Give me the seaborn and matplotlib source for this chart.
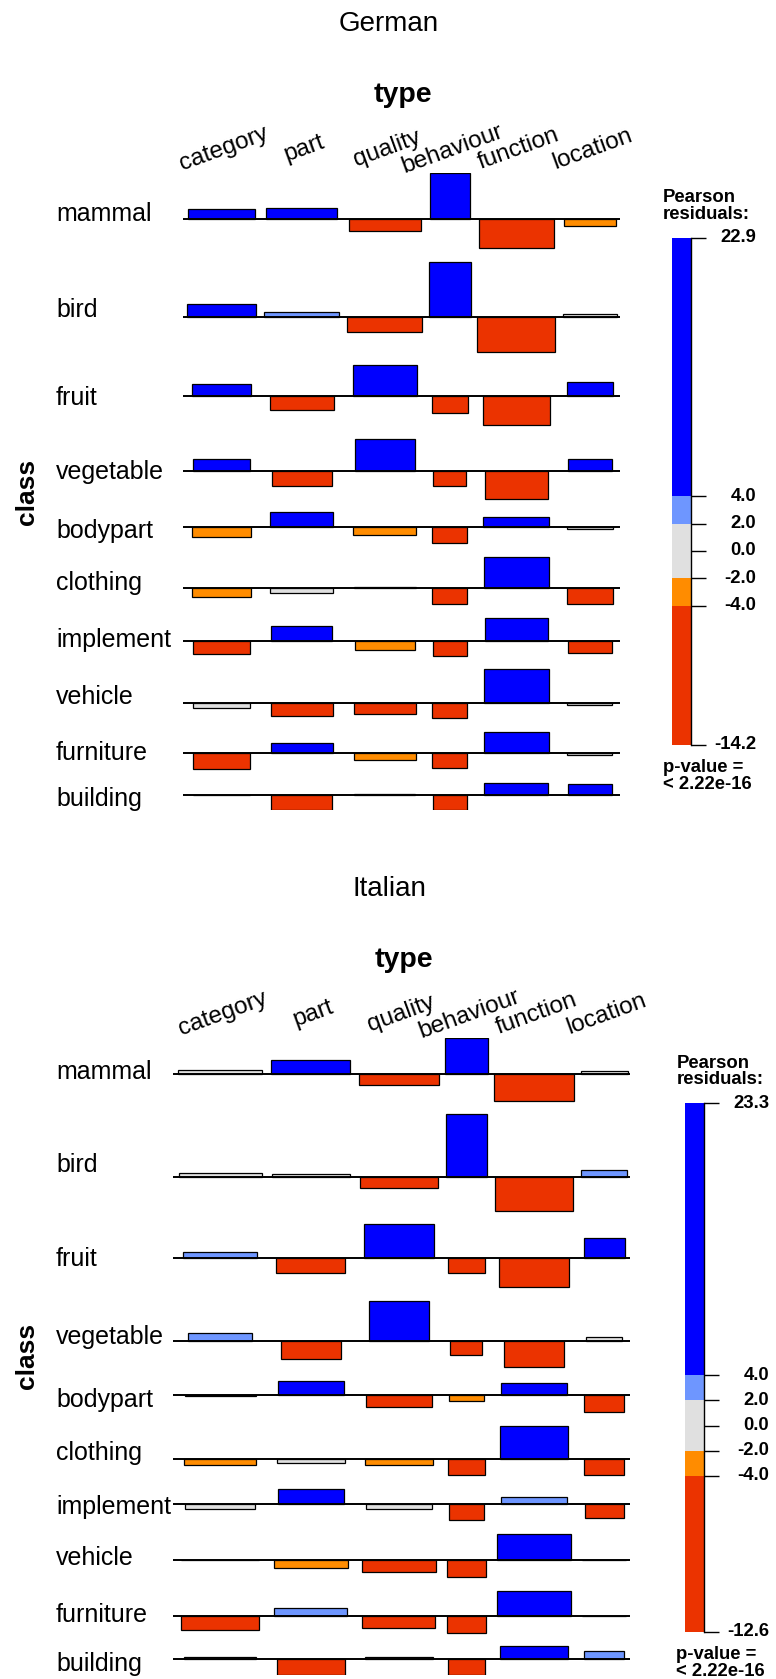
import numpy as np
import matplotlib
matplotlib.use("Agg")
import matplotlib.pyplot as plt
import matplotlib.transforms as mtransforms
import seaborn as sns

# ---------------- data ----------------
classes = ["mammal", "bird", "fruit", "vegetable", "bodypart",
           "clothing", "implement", "vehicle", "furniture", "building"]
types = ["category", "part", "quality", "behaviour", "function", "location"]

# German: margins (estimated) and Pearson residuals
de_class_totals = [912, 1000, 731, 648, 714, 702, 656, 689, 689, 664]
de_type_totals = [1343, 1542, 1542, 484, 1681, 814]
de_residuals = [
    [4.3, 4.5, -4.8, 19.0, -12.0, -2.9],
    [5.5, 2.3, -6.2, 22.9, -14.2, 1.4],
    [5.1, -5.5, 12.8, -6.7, -11.9, 5.9],
    [4.8, -6.3, 13.2, -6.2, -11.6, 4.8],
    [-3.9, 6.1, -3.3, -6.6, 4.1, -0.8],
    [-3.9, -1.9, 0.4, -6.6, 12.9, -6.6],
    [-5.5, 6.1, -3.9, -6.2, 9.5, -5.0],
    [-1.8, -5.4, -4.5, -6.2, 14.0, -0.6],
    [-6.6, 4.1, -2.8, -6.3, 8.7, -0.8],
    [0.1, -6.1, 0.2, -6.1, 5.1, 4.4],
]

# Italian
it_class_totals = [1000, 964, 766, 573, 706, 740, 697, 865, 852, 731]
it_type_totals = [1875, 1646, 1659, 472, 1659, 583]
it_residuals = [
    [1.5, 5.1, -4.3, 13.3, -10.0, 0.9],
    [1.5, 0.9, -4.3, 23.3, -12.6, 2.6],
    [2.2, -5.6, 12.6, -5.6, -10.9, 7.4],
    [3.0, -6.9, 14.9, -5.3, -9.9, 1.4],
    [-0.4, 5.2, -4.6, -2.4, 4.6, -6.4],
    [-2.3, -1.6, -2.3, -5.8, 12.4, -5.9],
    [-1.9, 5.9, -1.9, -5.9, 2.7, -5.1],
    [0.0, -3.0, -4.2, -6.2, 9.9, 0.0],
    [-5.1, 3.0, -4.6, -6.3, 9.4, 0.0],
    [1.0, -5.7, 0.7, -5.7, 4.8, 3.1],
]

p_value_text = "p-value =\n< 2.22e-16"
shade_breaks = [-4, -2, 2, 4]
shade_colors = ["#EB3300", "#FF8C00", "#E0E0E0", "#6E96FF", "#0000FF"]

# ---------------- style ----------------
sns.set_theme(style="white")
plt.rcParams["font.family"] = ["Liberation Sans", "DejaVu Sans"]
plt.rcParams["text.color"] = "black"

W, H = 776, 1679
fig = plt.figure(figsize=(W / 100, H / 100), dpi=100)
PT = 0.72  # points per pixel at 100 dpi


def rect(x0, y0, w, h):
    return [x0 / W, 1 - (y0 + h) / H, w / W, h / H]


def shade(v):
    if v > shade_breaks[3]:
        return shade_colors[4]
    if v > shade_breaks[2]:
        return shade_colors[3]
    if v >= shade_breaks[1]:
        return shade_colors[2]
    if v >= shade_breaks[0]:
        return shade_colors[1]
    return shade_colors[0]


# layout (pixels): plot box, legend x/width, legend y-anchors for [max, 4, -4, min]
panels = [
    dict(title="German", res=de_residuals, rows=de_class_totals, cols=de_type_totals,
         plot=(182.7, 173.3, 437.3, 636.4), legend_x=(672, 19),
         legend_y=(237.6, 496.2, 605.6, 745.0), label_right=756, text_x=663),
    dict(title="Italian", res=it_residuals, rows=it_class_totals, cols=it_type_totals,
         plot=(173.3, 1038.2, 457.0, 636.4), legend_x=(685, 19),
         legend_y=(1103.0, 1375.0, 1476.0, 1632.0), label_right=769, text_x=676.5),
]


def draw_panel(p):
    res = np.array(p["res"], float)
    r = np.array(p["rows"], float)
    c = np.array(p["cols"], float)
    n = r.sum()
    sq = np.sqrt(np.outer(r, c) / n)          # sqrt(expected)
    cellw = sq.max(axis=0) / 0.9
    xl = np.concatenate([[0], np.cumsum(cellw)])
    xc = (xl[:-1] + xl[1:]) / 2
    pos = np.maximum(res.max(axis=1), 0)
    neg = np.maximum(-res.min(axis=1), 0)

    x0, y0, w, h = p["plot"]
    gap_px = 13.7
    ppu = (h - gap_px * (len(classes) - 1)) / (pos + neg).sum()
    gap = gap_px / ppu
    base = []
    cur = 0.0
    for i in range(len(classes)):
        b = cur - pos[i]
        base.append(b)
        cur = b - neg[i] - gap
    ylow = cur + gap

    ax = fig.add_axes(rect(x0, y0, w, h))
    ax.set_xlim(0, xl[-1])
    ax.set_ylim(ylow, 0)
    ax.axis("off")

    trans_row = mtransforms.blended_transform_factory(fig.transFigure, ax.transData)
    for i, name in enumerate(classes):
        ax.bar(xc, res[i], width=sq[i], bottom=base[i],
               color=[shade(v) for v in res[i]], edgecolor="black",
               linewidth=0.9, zorder=2)
        ax.hlines(base[i], 0, xl[-1], color="black", lw=1.4, zorder=3)
        ax.annotate(name, xy=(56 / W, base[i] + (pos[i] - neg[i]) / 2),
                    xycoords=trans_row, xytext=(0, -3 * PT),
                    textcoords="offset points", ha="left", va="center",
                    fontsize=18)

    for j, t in enumerate(types):
        ax.annotate(t, xy=(xc[j], 1), xycoords=("data", "axes fraction"),
                    xytext=(2.5 * PT, 24.5 * PT), textcoords="offset points",
                    rotation=20, ha="center", va="center", fontsize=17.5)

    ax.annotate("type", xy=(0.5, 1), xycoords="axes fraction",
                xytext=(2 * PT, 78 * PT), textcoords="offset points",
                ha="center", va="center", fontsize=20.5, fontweight="bold")
    fig.text(27 / W, 1 - (y0 + h / 2) / H, "class", rotation=90, ha="center",
             va="center", fontsize=19, fontweight="bold")
    fig.text(389 / W, 1 - (y0 - 149) / H, p["title"], ha="center", va="center",
             fontsize=20)

    # legend: value -> pixel mapping through anchors at max, 4, -4, min
    lx, lw_ = p["legend_x"]
    ytop, y4, ym4, ybot = p["legend_y"]
    vmin, vmax = res.min(), res.max()
    vals = [vmin, -4, 4, vmax]
    pix = [ybot, ym4, y4, ytop]

    def vpix(v):
        return float(np.interp(v, vals, pix))

    lax = fig.add_axes(rect(lx, ytop, lw_, ybot - ytop))
    br = [vmin] + shade_breaks + [vmax]
    for k in range(5):
        lo, hi = vpix(br[k]), vpix(br[k + 1])
        lax.bar(0, hi - lo, bottom=lo, width=1, color=shade_colors[k], linewidth=0)
    lax.set_xlim(-0.5, 0.5)
    lax.set_ylim(ybot, ytop)
    lax.set_xticks([])
    lax.set_yticks([])
    for s in ["left", "top", "bottom"]:
        lax.spines[s].set_visible(False)
    lax.spines["right"].set_visible(True)
    lax.spines["right"].set_color("black")
    lax.spines["right"].set_linewidth(1.0)
    ticks = [vmax, 4, 2, 0, -2, -4, vmin]
    tick_len = 15 / lw_
    lab_x = (p["label_right"] - lx) / lw_ - 0.5
    for t in ticks:
        yy = vpix(t)
        lax.plot([0.5, 0.5 + tick_len], [yy, yy], color="black", lw=1.0,
                 clip_on=False, solid_capstyle="butt")
        lax.text(lab_x, yy, f"{t:.1f}", ha="right", va="center", fontsize=13.3,
                 fontweight="bold")
    fig.text(p["text_x"] / W, 1 - (ytop - 15) / H, "Pearson\nresiduals:", ha="left",
             va="bottom", fontsize=13.3, fontweight="bold", linespacing=0.95)
    fig.text(p["text_x"] / W, 1 - (ybot + 14) / H, p_value_text, ha="left",
             va="top", fontsize=13.3, fontweight="bold", linespacing=1.0)


for p in panels:
    draw_panel(p)

fig.savefig("out.png", dpi=100)
